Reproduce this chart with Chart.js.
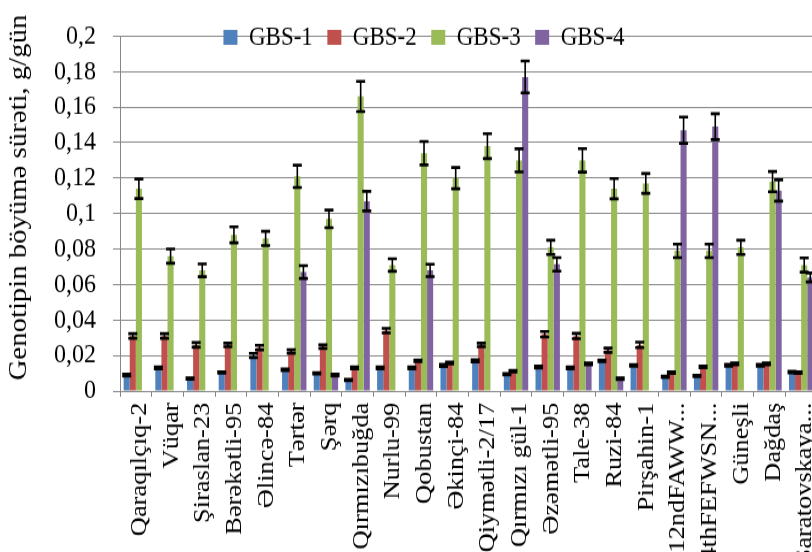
<!DOCTYPE html>
<html>
<head>
<meta charset="utf-8">
<script src="https://cdn.jsdelivr.net/npm/chart.js@4.4.1/dist/chart.umd.min.js"></script>
<style>
  html, body { margin: 0; padding: 0; background: #fff; overflow: hidden; width: 812px; height: 552px; }
  /* the chart is laid out on a 480px-tall canvas and stretched vertically to fill the page */
  #wrap { position: absolute; left: 0; top: 0; width: 840px; height: 480px; transform: scaleY(1.15); transform-origin: 0 0; }
  canvas { display: block; }
</style>
</head>
<body>
<div id="wrap"><canvas id="growth" width="840" height="480"></canvas></div>
<script>
// Genotypes on the category axis
const categories = [
  'Qaraqılçıq-2', 'Vüqar', 'Şiraslan-23', 'Bərəkətli-95', 'Əlincə-84', 'Tərtər', 'Şərq',
  'Qırmızıbuğda', 'Nurlu-99', 'Qobustan', 'Əkinçi-84', 'Qiymətli-2/17', 'Qırmızı gül-1',
  'Əzəmətli-95', 'Tale-38', 'Ruzi-84', 'Pirşahin-1', '12ndFAWW...', '4thFEFWSN...',
  'Güneşli', 'Dağdaş', 'Saratovskaya...'
];

const seriesNames = ['GBS-1', 'GBS-2', 'GBS-3', 'GBS-4'];

// Growth rate, g/day, per treatment
const gbs1 = [0.009, 0.013, 0.007, 0.0105, 0.020, 0.012, 0.010, 0.0062, 0.013, 0.013, 0.0144,
  0.017, 0.0095, 0.0135, 0.013, 0.017, 0.0144, 0.008, 0.0085, 0.0145, 0.0145, 0.0107];
const gbs2 = [0.031, 0.031, 0.026, 0.026, 0.0245, 0.0223, 0.025, 0.013, 0.034, 0.017, 0.0158,
  0.026, 0.0112, 0.032, 0.031, 0.023, 0.026, 0.0104, 0.0136, 0.0153, 0.0153, 0.0104];
const gbs3 = [0.114, 0.076, 0.068, 0.088, 0.086, 0.121, 0.097, 0.166, 0.071, 0.134, 0.120,
  0.138, 0.130, 0.081, 0.130, 0.114, 0.117, 0.079, 0.079, 0.081, 0.118, 0.071];
const gbs4 = [null, null, null, null, null, 0.067, 0.009, 0.107, null, 0.068, null,
  null, 0.177, 0.0714, 0.0153, 0.007, null, 0.147, 0.149, null, 0.113, 0.064];

// Standard errors drawn as error bars
const gbs1Err = [0.0005, 0.0005, 0.0004, 0.0004, 0.0012, 0.0005, 0.0004, 0.0004, 0.0005, 0.0005, 0.0006,
  0.0006, 0.0004, 0.0005, 0.0005, 0.0005, 0.0005, 0.0004, 0.0004, 0.0005, 0.0005, 0.0005];
const gbs2Err = [0.0013, 0.0013, 0.0013, 0.001, 0.0013, 0.001, 0.001, 0.0005, 0.0013, 0.0005, 0.0005,
  0.001, 0.0005, 0.0015, 0.0015, 0.0012, 0.0015, 0.0005, 0.0005, 0.0005, 0.0005, 0.0005];
const gbs3Err = [0.0055, 0.004, 0.0036, 0.0045, 0.004, 0.0063, 0.005, 0.0085, 0.0035, 0.0066, 0.006,
  0.007, 0.0065, 0.004, 0.0066, 0.0057, 0.0056, 0.0038, 0.0038, 0.004, 0.0057, 0.004];
const gbs4Err = [null, null, null, null, null, 0.0036, 0.0005, 0.0055, null, 0.0035, null,
  null, 0.009, 0.0038, 0.0005, 0.0005, null, 0.0074, 0.0073, null, 0.006, 0.0025];

const seriesColors = ['#4F81BD', '#C0504D', '#9BBB59', '#8064A2'];

const yTickLabels = ['0', '0,02', '0,04', '0,06', '0,08', '0,1', '0,12', '0,14', '0,16', '0,18', '0,2'];
const yTitle = 'Genotipin böyümə sürəti, g/gün';

const serif = "'Liberation Serif', 'Times New Roman', serif";
const gridGray = '#878787';

Chart.defaults.font.family = serif;
Chart.defaults.font.size = 23;
Chart.defaults.color = '#000';

// Legend sits inside the plot, just under the top gridline, without taking layout space.
// The y-axis title is also nudged a little above the plot's centre.
const layoutTweaks = {
  id: 'layoutTweaks',
  beforeLayout(chart) {
    const lg = chart.legend;
    if (lg && !lg.__flat) {
      const fit = lg.fit;
      lg.fit = function () { fit.call(this); this.height = 0; };
      lg.__flat = true;
    }
  },
  afterLayout(chart) {
    const lg = chart.legend;
    if (lg) {
      lg.left = 4;
      lg.right = 844;
      lg.top = 6.5;
      lg.bottom = 60;
    }
    const ys = chart.scales.y;
    if (ys && !ys.__titleShift) {
      const drawTitle = ys.drawTitle;
      const shift = 14;
      ys.drawTitle = function () {
        this.top -= shift; this.bottom -= shift;
        drawTitle.call(this);
        this.top += shift; this.bottom += shift;
      };
      ys.__titleShift = true;
    }
  }
};

// Black error bars with caps, centred on each bar
const errorBars = {
  id: 'errorBars',
  afterDatasetsDraw(chart) {
    const ctx = chart.ctx;
    const yScale = chart.scales.y;
    ctx.save();
    ctx.strokeStyle = '#000';
    chart.data.datasets.forEach((ds, i) => {
      const meta = chart.getDatasetMeta(i);
      if (meta.hidden) return;
      meta.data.forEach((bar, j) => {
        const v = ds.data[j];
        const e = ds.errors[j];
        if (v == null || e == null) return;
        const yTop = yScale.getPixelForValue(v + e);
        const yBot = yScale.getPixelForValue(v - e);
        const x = bar.x;
        const half = 4.5;
        ctx.lineWidth = 1.6;
        ctx.beginPath();
        ctx.moveTo(x, yTop);
        ctx.lineTo(x, yBot);
        ctx.stroke();
        ctx.lineWidth = 2.6;
        ctx.beginPath();
        ctx.moveTo(x - half, yTop);
        ctx.lineTo(x + half, yTop);
        ctx.moveTo(x - half, yBot);
        ctx.lineTo(x + half, yBot);
        ctx.stroke();
      });
    });
    ctx.restore();
  }
};

const values = [gbs1, gbs2, gbs3, gbs4];
const errors = [gbs1Err, gbs2Err, gbs3Err, gbs4Err];

new Chart(document.getElementById('growth'), {
  type: 'bar',
  data: {
    labels: categories,
    datasets: seriesNames.map((name, i) => ({
      label: name,
      data: values[i],
      errors: errors[i],
      backgroundColor: seriesColors[i],
      borderWidth: 0
    }))
  },
  options: {
    responsive: false,
    animation: false,
    devicePixelRatio: 1,
    layout: { padding: { left: 0, right: 23, top: 20.9, bottom: 0 } },
    datasets: { bar: { categoryPercentage: 0.77, barPercentage: 1 } },
    plugins: {
      legend: {
        position: 'top',
        labels: {
          boxWidth: 14,
          boxHeight: 13,
          padding: 14.5,
          color: '#000',
          font: { family: serif, size: 23 }
        }
      },
      tooltip: { enabled: false }
    },
    scales: {
      x: {
        grid: { display: true, drawOnChartArea: false, drawTicks: true, tickLength: 5, offset: true, color: gridGray },
        border: { display: true, color: gridGray, width: 1 },
        ticks: {
          autoSkip: false, minRotation: 90, maxRotation: 90, padding: 5, labelOffset: 4,
          color: '#000', font: { family: serif, size: 23 }
        },
        afterFit(scale) { scale.height = 140; }
      },
      y: {
        min: 0,
        max: 0.2,
        ticks: {
          stepSize: 0.02, autoSkip: false, padding: 17, color: '#000',
          font: { family: serif, size: 24 },
          callback: (v) => yTickLabels[Math.round(v / 0.02)]
        },
        grid: { color: gridGray, tickLength: 7, lineWidth: 1 },
        border: { display: true, color: gridGray, width: 1 },
        title: {
          display: true, text: yTitle, color: '#000',
          font: { family: serif, size: 25 },
          padding: { top: 4, bottom: 0 }
        },
        afterFit(scale) { scale.width = 120; }
      }
    }
  },
  plugins: [layoutTweaks, errorBars]
});
</script>
</body>
</html>
